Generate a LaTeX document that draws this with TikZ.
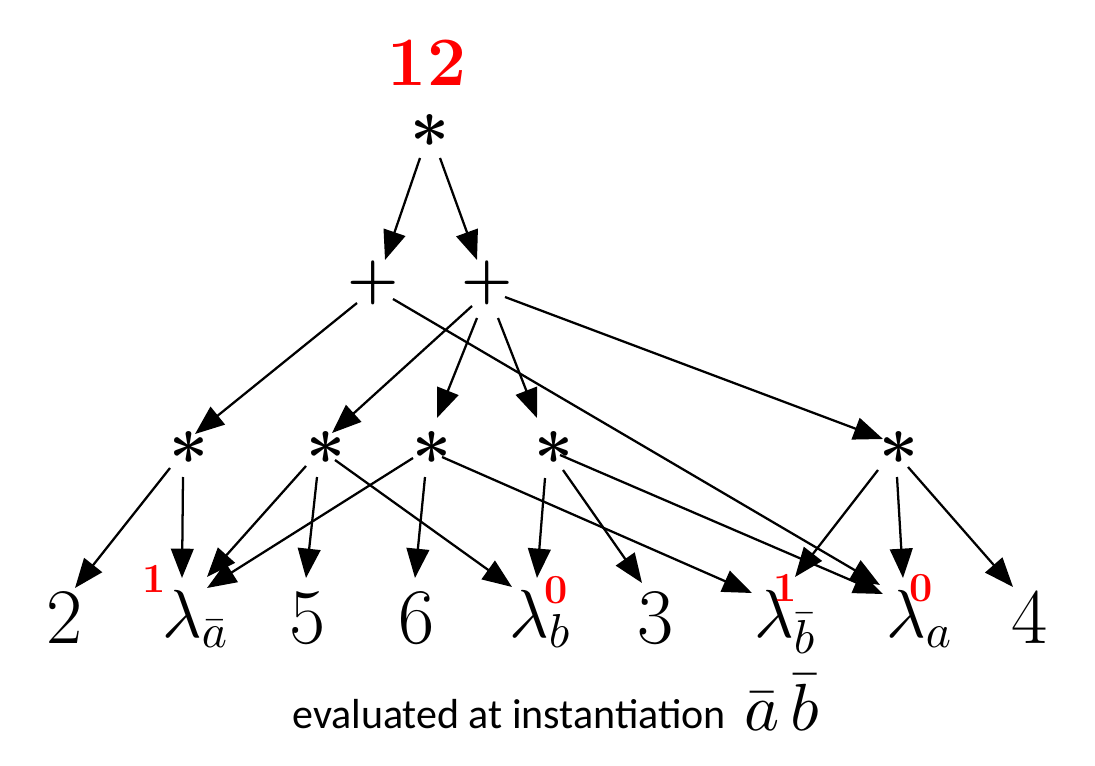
\documentclass[tikz,border=0pt]{standalone}
\usepackage{fontspec}
\newfontfamily\capfont{Carlito}
\DeclareFontShape{OML}{cmm}{m}{it}{<->cmmi10}{}
\DeclareFontShape{OMS}{cmsy}{m}{n}{<->cmsy10}{}
\DeclareFontShape{OT1}{cmr}{m}{n}{<->cmr10}{}
\usetikzlibrary{arrows.meta,calc}
\newcommand\opglyph[2]{\raisebox{-#1em}[0pt][0pt]{#2}}
\begin{document}
\begin{tikzpicture}[x=0.75pt,y=-0.75pt,
  stargl/.style={inner sep=0pt,font=\rmfamily\bfseries\fontsize{52}{60}\selectfont},
  plusgl/.style={inner sep=0pt,font=\rmfamily\bfseries\fontsize{44}{50}\selectfont},
  num/.style={inner sep=0pt,anchor=base,font=\rmfamily\fontsize{59}{60}\selectfont},
  lam/.style={inner sep=0pt,anchor=base west,font=\fontsize{51}{60}\selectfont},
  val/.style={inner sep=0pt,text=red,font=\rmfamily\bfseries\fontsize{31}{32}\selectfont},
  arr/.style={line width=1.7pt,-{Triangle[length=22pt,width=17pt]}}]
\useasboundingbox (0,0) rectangle (1095,766);

% value at root
\node[inner sep=0pt,text=red,font=\rmfamily\bfseries\fontsize{52}{54}\selectfont] (V) at (427,63) {12};

% operators
\node[stargl] (R)  at (430,130) {\opglyph{0.53}{*}};
\node[plusgl] (P1) at (373,283) {\opglyph{0.25}{+}};
\node[plusgl] (P2) at (487,283) {\opglyph{0.25}{+}};
\node[stargl] (S1) at (189,447) {\opglyph{0.53}{*}};
\node[stargl] (S2) at (326,447) {\opglyph{0.53}{*}};
\node[stargl] (S3) at (432,447) {\opglyph{0.53}{*}};
\node[stargl] (S4) at (554,447) {\opglyph{0.53}{*}};
\node[stargl] (S5) at (899,447) {\opglyph{0.53}{*}};

% leaves
\node[num] (n2)  at (65,643)  {2};
\node[lam] (la)  at (162,637) {$\lambda_{\bar a}$};
\node[num] (n5)  at (308,643) {5};
\node[num] (n6)  at (417,643) {6};
\node[lam] (lb)  at (509,637) {$\lambda_{b}$};
\node[num] (n3)  at (656,643) {3};
\node[lam] (lbb) at (754,637) {$\lambda_{\bar b}$};
\node[lam] (lA)  at (886,637) {$\lambda_{a}$};
\node[num] (n4)  at (1030,643) {4};

% red values
\node[val] (va)  at (154,579) {1};
\node[val] (vb)  at (556,590) {0};
\node[val] (vbb) at (785,588) {1};
\node[val] (vA)  at (921,588) {0};

% caption
\node[inner sep=0pt,anchor=base west,font=\capfont\fontsize{31.5}{36}\selectfont] (cap) at (292,728) {evaluated at instantiation};
\node[inner sep=0pt,anchor=base west,font=\fontsize{50}{52}\selectfont] (inst) at (744,730) {$\bar{a}\,\bar{b}$};

% connectors
\draw[arr] ($(R)+(-10,28)$) -- ($(P1)+(12,-23)$);
\draw[arr] ($(R)+(10,28)$) -- ($(P2)+(-10,-23)$);
\draw[arr] ($(P1)+(-16,20)$) -- ($(S1)+(6,-13)$);
\draw[arr] ($(P1)+(20,16)$) -- ($(lA.base west)+(-6,-52)$);
\draw[arr] ($(P2)+(-15,23)$) -- ($(S2)+(6,-14)$);
\draw[arr] ($(P2)+(-10,35)$) -- ($(S3)+(5,-29)$);
\draw[arr] ($(P2)+(11,35)$) -- ($(S4)+(-17,-29)$);
\draw[arr] ($(P2)+(18,14)$) -- ($(S5)+(-16,-8)$);
\draw[arr] ($(S1)+(-19,21)$) -- ($(n2.base)+(10,-55)$);
\draw[arr] ($(S1)+(-6,30)$) -- ($(la.base west)+(20,-59)$);
\draw[arr] ($(S2)+(-20,19)$) -- ($(la.base west)+(45,-60)$);
\draw[arr] ($(S2)+(-9,30)$) -- ($(n5.base)+(-2,-65)$);
\draw[arr] ($(S2)+(9,13)$) -- ($(lb.base west)+(3,-50)$);
\draw[arr] ($(S3)+(-19,11)$) -- ($(la.base west)+(45,-49)$);
\draw[arr] ($(S3)+(-7,30)$) -- ($(n6.base)+(-2,-65)$);
\draw[arr] ($(S3)+(10,10)$) -- ($(lbb.base west)+(-2,-44)$);
\draw[arr] ($(S4)+(-9,31)$) -- ($(lb.base west)+(28,-59)$);
\draw[arr] ($(S4)+(9,23)$) -- ($(n3.base)+(-14,-60)$);
\draw[arr] ($(S4)+(6,8)$) -- ($(lA.base west)+(-3,-43)$);
\draw[arr] ($(S5)+(-21,23)$) -- ($(lbb.base west)+(41,-60)$);
\draw[arr] ($(S5)+(-2,30)$) -- ($(lA.base west)+(17,-59)$);
\draw[arr] ($(S5)+(9,20)$) -- ($(n4.base)+(-17,-56)$);
\end{tikzpicture}
\end{document}
